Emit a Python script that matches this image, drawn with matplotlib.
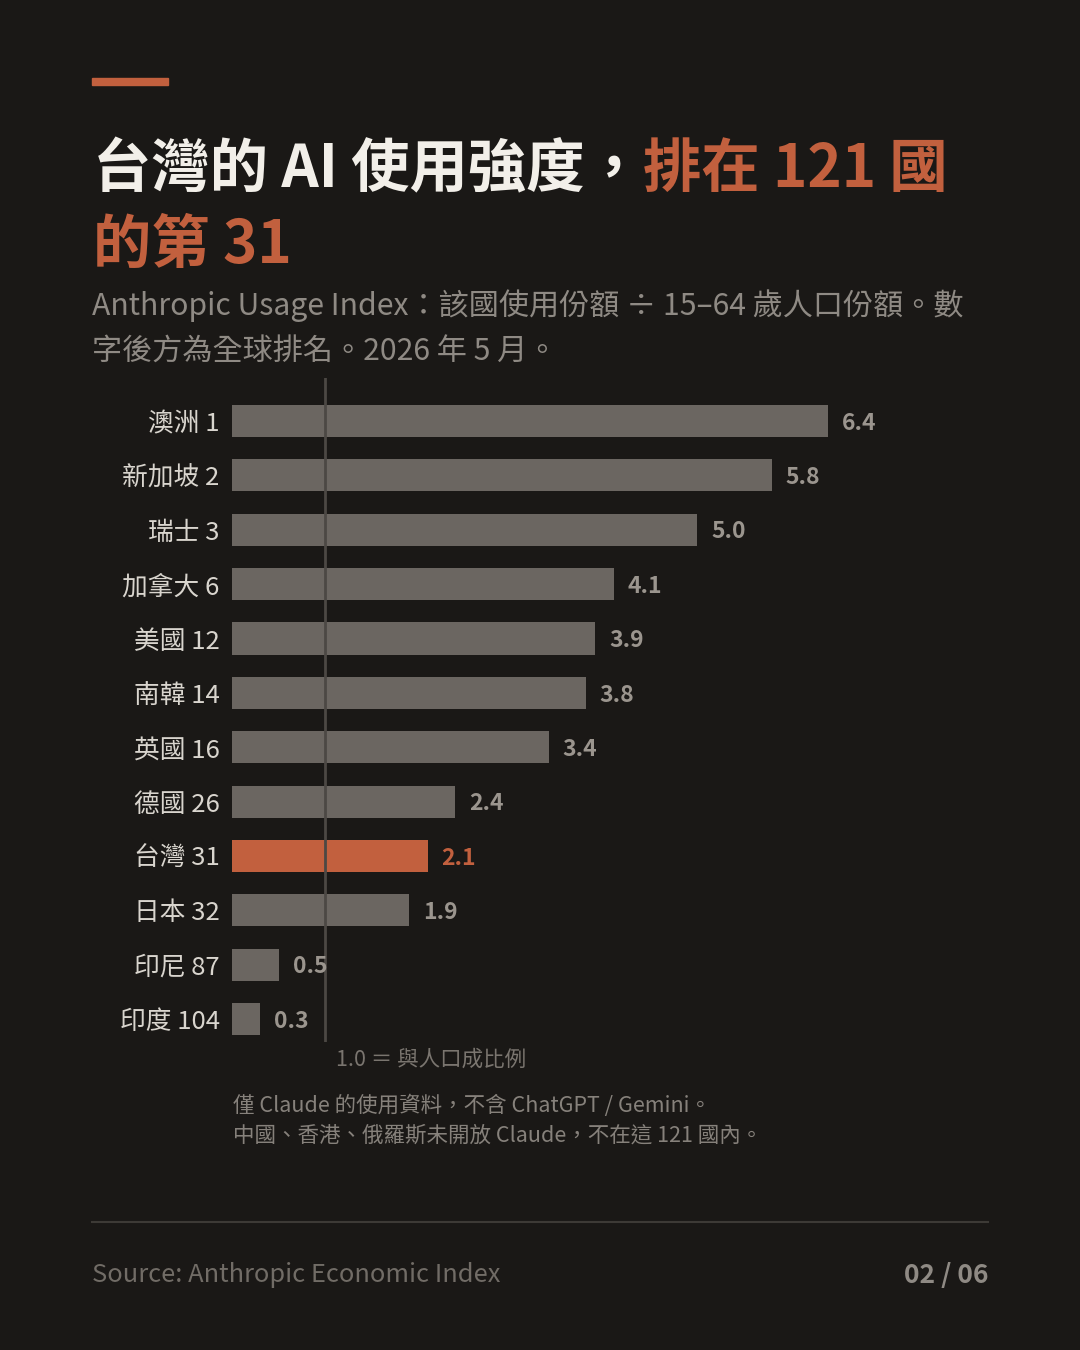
import matplotlib.pyplot as plt

plt.rcParams['font.family'] = ['Noto Sans CJK TC', 'DejaVu Sans']

countries = ['澳洲', '新加坡', '瑞士', '加拿大', '美國', '南韓', '英國', '德國', '台灣', '日本', '印尼', '印度']
ranks = [1, 2, 3, 6, 12, 14, 16, 26, 31, 32, 87, 104]
values = [6.4, 5.8, 5.0, 4.1, 3.9, 3.8, 3.4, 2.4, 2.1, 1.9, 0.5, 0.3]
highlight = '台灣'

BG = '#1a1816'
ORANGE = '#c2603e'
BAR = '#6b6661'
W, H = 1080, 1350

fig = plt.figure(figsize=(W / 100, H / 100), dpi=100)
fig.patch.set_facecolor(BG)


def fx(px):
    return px / W


def fy(py):
    return 1 - py / H


# axes: x=0 at px 232, 93.1 px per unit
ax = fig.add_axes([fx(232), fy(1042), fx(756), (1042 - 378) / H])
ax.set_facecolor('none')
ax.set_xlim(0, 756 / 93.1)
ax.set_ylim(11.42, -0.79)
for s in ax.spines.values():
    s.set_visible(False)
ax.set_xticks([])

ypos = list(range(len(countries)))
colors = [ORANGE if c == highlight else BAR for c in countries]
ax.barh(ypos, values, height=0.59, color=colors, zorder=2)
ax.axvline(1.0, color='#4c4844', lw=2, zorder=3)

ax.set_yticks(ypos)
ax.set_yticklabels([f'{c} {r}' for c, r in zip(countries, ranks)])
ax.tick_params(axis='y', length=0, pad=9, labelsize=18.5, labelcolor='#d9d5ce')

for y, v, c in zip(ypos, values, countries):
    col = ORANGE if c == highlight else '#9b958e'
    ax.text(v + 0.15, y + 0.04, f'{v:.1f}', va='center', ha='left', fontsize=16.5,
            fontweight='bold', color=col)

# accent bar
fig.patches.append(plt.Rectangle((fx(92), fy(85)), fx(76), 7 / H, transform=fig.transFigure,
                                 color=ORANGE, zorder=5))

# title with two colours
fig.canvas.draw()
renderer = fig.canvas.get_renderer()
t1 = fig.text(fx(93), fy(187), '台灣的 AI 使用強度，', fontsize=42, fontweight='bold',
              color='#f2efe9', va='baseline', ha='left')
bb = t1.get_window_extent(renderer)
fig.text(bb.x1 / W, fy(187), '排在 121 國', fontsize=42, fontweight='bold',
         color=ORANGE, va='baseline', ha='left')
fig.text(fx(93), fy(263), '的第 31', fontsize=42, fontweight='bold',
         color=ORANGE, va='baseline', ha='left')

# subtitle
sub_col = '#8f8a84'
fig.text(fx(92), fy(306), 'Anthropic Usage Index：該國使用份額 ÷ 15–64 歲人口份額。數',
         fontsize=21.7, color=sub_col, va='center', ha='left')
fig.text(fx(92), fy(352), '字後方為全球排名。2026 年 5 月。',
         fontsize=21.7, color=sub_col, va='center', ha='left')

# annotations
fig.text(fx(336), fy(1060), '1.0 ＝ 與人口成比例', fontsize=15.5, color='#7a756f',
         va='center', ha='left', fontweight='light')
fig.text(fx(233), fy(1106), '僅 Claude 的使用資料，不含 ChatGPT / Gemini。', fontsize=15.5,
         color='#86817b', va='center', ha='left', fontweight='light')
fig.text(fx(233), fy(1136), '中國、香港、俄羅斯未開放 Claude，不在這 121 國內。', fontsize=15.5,
         color='#86817b', va='center', ha='left', fontweight='light')

# footer
fig.add_artist(plt.Line2D([fx(92), fx(988)], [fy(1222), fy(1222)], color='#3d3a36', lw=1.5))
fig.text(fx(92), fy(1275), 'Source: Anthropic Economic Index', fontsize=18.3, color='#716c66',
         va='center', ha='left', fontweight='light')
fig.text(fx(988), fy(1275), '02 / 06', fontsize=19, color='#8f8a84',
         va='center', ha='right', fontweight='bold')

fig.savefig('out.png', dpi=100, facecolor=BG)
